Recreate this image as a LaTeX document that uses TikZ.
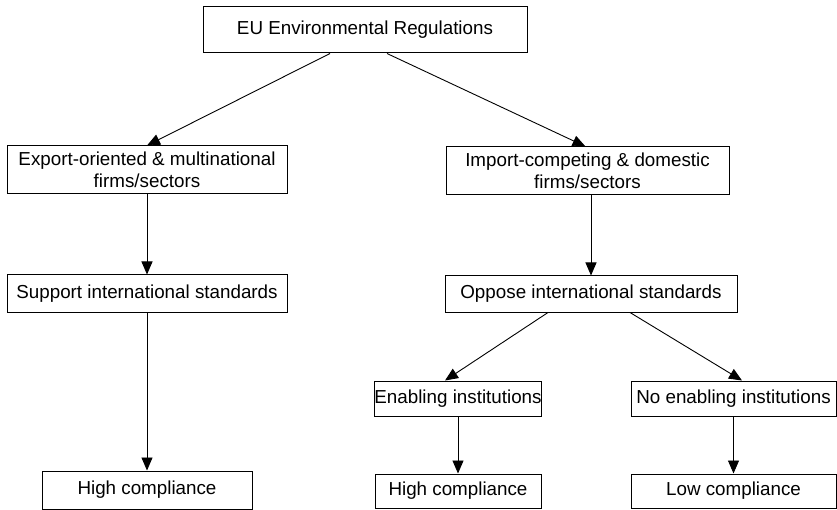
\documentclass[tikz,border=0pt]{standalone}
\usepackage{fontspec}
\setmainfont{Liberation Sans}
\usetikzlibrary{arrows.meta}
\begin{document}
\begin{tikzpicture}[x=1pt,y=-1pt,
  box/.style={draw, line width=1pt, inner sep=0pt, align=center,
    font=\fontsize{18.8}{22.5}\selectfont},
  arr/.style={line width=0.9pt, -{Triangle[length=13pt,width=11pt]}}]
\useasboundingbox (0,0) rectangle (837,510);
\node[box, minimum width=324pt, minimum height=46pt] (top) at (365,30) {EU Environmental Regulations};
\node[box, minimum width=280pt, minimum height=48pt] (export) at (147,170) {Export-oriented \& multinational\\firms/sectors};
\node[box, minimum width=283pt, minimum height=48pt] (import) at (587.5,171) {Import-competing \& domestic\\firms/sectors};
\node[box, minimum width=280pt, minimum height=37pt] (support) at (147,293.5) {Support international standards};
\node[box, minimum width=292pt, minimum height=36pt] (oppose) at (591,294) {Oppose international standards};
\node[box, minimum width=166pt, minimum height=35pt] (enab) at (458,398.5) {Enabling institutions};
\node[box, minimum width=205pt, minimum height=35pt] (noenab) at (733.5,398.5) {No enabling institutions};
\node[box, minimum width=210pt, minimum height=38pt] (hc1) at (147,490) {High compliance};
\node[box, minimum width=166pt, minimum height=34pt] (hc2) at (458,491) {High compliance};
\node[box, minimum width=205pt, minimum height=34pt] (low) at (733.5,491) {Low compliance};
\draw[arr] ([xshift=-35pt]top.south) -- (export.north);
\draw[arr] ([xshift=22pt]top.south) -- ([xshift=-2pt]import.north);
\draw[arr] (export.south) -- (support.north);
\draw[arr] ([xshift=3.5pt]import.south) -- (oppose.north);
\draw[arr] (support.south) -- (hc1.north);
\draw[arr] ([xshift=-43pt]oppose.south) -- ([xshift=-13pt]enab.north);
\draw[arr] ([xshift=39pt]oppose.south) -- ([xshift=8.5pt]noenab.north);
\draw[arr] (enab.south) -- (hc2.north);
\draw[arr] (noenab.south) -- (low.north);
\end{tikzpicture}
\end{document}
